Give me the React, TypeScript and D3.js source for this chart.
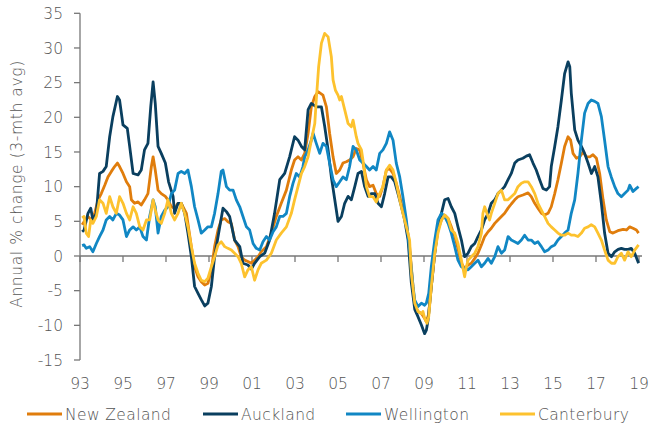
import React from "react";
import * as d3 from "d3";

type Pt = [number, number];

// series as [year, annual % change]
const newZealand: Pt[] = [
  [1993.1, 4.5], [1993.19, 4.95], [1993.37, 5.7], [1993.53, 5.2], [1993.68, 6.15], [1993.84, 8.1], [1993.99, 9.0],
  [1994.15, 10.2], [1994.3, 11.4], [1994.46, 12.2], [1994.61, 12.9], [1994.74, 13.4], [1994.84, 12.9], [1995.0, 11.9],
  [1995.16, 10.7], [1995.31, 10.0], [1995.39, 8.1], [1995.54, 7.6], [1995.7, 7.8], [1995.85, 7.35], [1996.0, 8.1],
  [1996.16, 9.0], [1996.32, 12.9], [1996.4, 14.3], [1996.5, 12.4], [1996.63, 9.5], [1996.78, 9.0], [1996.97, 8.6],
  [1997.09, 8.1], [1997.25, 7.1], [1997.4, 6.9], [1997.56, 7.6], [1997.71, 7.6], [1997.95, 6.15], [1998.18, 1.35],
  [1998.33, -1.55], [1998.49, -3.0], [1998.64, -3.7], [1998.8, -4.2], [1998.95, -3.95], [1999.11, -2.0], [1999.26, 1.35],
  [1999.42, 3.75], [1999.57, 5.2], [1999.73, 5.4], [1999.88, 4.95], [2000.04, 4.7], [2000.19, 2.3], [2000.35, 1.35],
  [2000.5, -0.1], [2000.66, -0.6], [2000.81, -0.8], [2000.97, -1.05], [2001.12, -0.6], [2001.28, -0.1], [2001.43, 0.6],
  [2001.67, 1.35], [2001.9, 3.3], [2002.13, 5.7], [2002.36, 7.6], [2002.6, 9.5], [2002.83, 12.4], [2002.98, 13.85],
  [2003.14, 14.3], [2003.3, 13.85], [2003.45, 14.8], [2003.61, 17.7], [2003.76, 21.5], [2003.92, 23.0], [2004.07, 23.7],
  [2004.3, 23.2], [2004.46, 21.5], [2004.61, 17.7], [2004.77, 14.3], [2004.92, 11.9], [2005.08, 12.4], [2005.23, 13.4],
  [2005.39, 13.6], [2005.54, 13.85], [2005.7, 14.3], [2005.85, 15.5], [2006.01, 15.3], [2006.16, 13.4], [2006.32, 11.0],
  [2006.47, 10.0], [2006.63, 10.2], [2006.78, 9.0], [2006.94, 8.6], [2007.09, 10.0], [2007.25, 12.4], [2007.4, 12.6],
  [2007.56, 11.9], [2007.71, 10.5], [2007.87, 8.6], [2008.02, 6.6], [2008.18, 4.7], [2008.33, 1.35], [2008.49, -4.4],
  [2008.57, -7.1], [2008.72, -8.0], [2008.88, -8.3], [2009.03, -9.0], [2009.11, -9.5], [2009.22, -8.3], [2009.34, -4.4],
  [2009.5, 0.4], [2009.65, 3.75], [2009.81, 5.2], [2009.96, 5.9], [2010.12, 5.4], [2010.27, 4.2], [2010.43, 2.8],
  [2010.58, 1.1], [2010.74, -1.05], [2010.89, -1.8], [2011.05, -1.3], [2011.2, -1.05], [2011.36, -0.35], [2011.51, 0.4],
  [2011.67, 1.6], [2011.82, 2.8], [2011.98, 3.5], [2012.13, 4.0], [2012.29, 4.7], [2012.44, 5.2], [2012.6, 5.7],
  [2012.75, 6.15], [2012.91, 6.9], [2013.06, 7.5], [2013.22, 8.1], [2013.37, 8.55], [2013.6, 8.8], [2013.84, 9.1],
  [2013.99, 8.55], [2014.15, 7.6], [2014.3, 6.9], [2014.46, 6.15], [2014.61, 5.9], [2014.77, 6.15], [2014.92, 7.1],
  [2015.08, 9.0], [2015.23, 11.0], [2015.39, 13.4], [2015.54, 15.8], [2015.7, 17.2], [2015.82, 16.7], [2015.93, 14.8],
  [2016.09, 14.1], [2016.24, 14.3], [2016.4, 15.0], [2016.55, 14.3], [2016.71, 14.3], [2016.86, 14.6], [2017.02, 14.1],
  [2017.17, 11.9], [2017.33, 8.1], [2017.48, 5.2], [2017.64, 3.5], [2017.79, 3.3], [2018.02, 3.65], [2018.26, 3.85],
  [2018.42, 3.75], [2018.57, 4.2], [2018.72, 4.0], [2018.88, 3.75], [2018.98, 3.3],
];

const auckland: Pt[] = [
  [1993.1, 3.5], [1993.19, 3.75], [1993.37, 6.15], [1993.5, 6.9], [1993.6, 5.2], [1993.76, 6.15], [1993.91, 11.9],
  [1994.07, 12.2], [1994.22, 12.9], [1994.38, 17.2], [1994.53, 20.1], [1994.74, 23.0], [1994.84, 22.5], [1995.0, 18.9],
  [1995.2, 18.4], [1995.31, 15.8], [1995.47, 11.9], [1995.7, 11.7], [1995.85, 12.4], [1996.0, 15.3], [1996.16, 16.25],
  [1996.29, 21.5], [1996.4, 25.1], [1996.5, 22.0], [1996.63, 15.8], [1996.78, 14.8], [1996.97, 13.4], [1997.12, 10.7],
  [1997.33, 8.6], [1997.4, 6.15], [1997.56, 7.6], [1997.71, 7.6], [1997.87, 6.15], [1998.02, 3.3], [1998.18, -0.1],
  [1998.33, -4.4], [1998.49, -5.4], [1998.64, -6.3], [1998.8, -7.2], [1998.95, -6.8], [1999.11, -4.4], [1999.26, -0.1],
  [1999.5, 4.2], [1999.65, 6.9], [1999.81, 6.4], [1999.96, 5.7], [2000.19, 2.3], [2000.43, 1.35], [2000.58, -1.05],
  [2000.81, -1.3], [2000.97, -1.9], [2001.12, -1.05], [2001.36, -0.1], [2001.59, 0.4], [2001.82, 2.3], [2002.05, 6.15],
  [2002.29, 11.0], [2002.52, 11.9], [2002.75, 14.3], [2002.98, 17.2], [2003.14, 16.7], [2003.3, 15.8], [2003.45, 15.3],
  [2003.61, 21.1], [2003.76, 22.0], [2003.99, 21.5], [2004.23, 21.5], [2004.38, 18.7], [2004.54, 15.3], [2004.69, 11.4],
  [2004.85, 8.1], [2005.0, 5.0], [2005.16, 5.7], [2005.31, 7.6], [2005.47, 8.6], [2005.62, 8.1], [2005.78, 10.0],
  [2005.93, 11.9], [2006.09, 12.2], [2006.24, 10.0], [2006.4, 8.6], [2006.55, 9.0], [2006.71, 9.0], [2006.86, 7.6],
  [2007.02, 7.1], [2007.17, 9.0], [2007.33, 11.4], [2007.48, 11.4], [2007.64, 10.7], [2007.79, 9.0], [2007.95, 7.1],
  [2008.1, 5.2], [2008.26, 2.3], [2008.41, -3.85], [2008.57, -7.7], [2008.72, -8.75], [2008.88, -9.95], [2009.03, -11.2],
  [2009.11, -10.7], [2009.19, -9.2], [2009.34, -4.4], [2009.5, 0.4], [2009.65, 4.2], [2009.81, 6.15], [2009.96, 8.1],
  [2010.12, 8.3], [2010.27, 7.1], [2010.43, 6.15], [2010.58, 4.2], [2010.74, 2.3], [2010.89, -0.1], [2011.05, 0.4],
  [2011.2, 1.35], [2011.36, 1.8], [2011.51, 2.8], [2011.67, 3.75], [2011.82, 5.2], [2011.98, 6.15], [2012.13, 7.6],
  [2012.29, 8.1], [2012.44, 9.0], [2012.6, 9.5], [2012.75, 10.0], [2012.91, 11.0], [2013.06, 11.9], [2013.22, 13.4],
  [2013.37, 13.85], [2013.6, 14.1], [2013.76, 14.4], [2013.91, 14.6], [2014.07, 13.4], [2014.22, 12.4], [2014.38, 11.0],
  [2014.53, 9.75], [2014.69, 9.5], [2014.84, 10.0], [2014.92, 12.9], [2015.08, 15.8], [2015.23, 18.65], [2015.39, 22.5],
  [2015.54, 26.3], [2015.7, 28.0], [2015.78, 27.3], [2015.85, 23.5], [2016.01, 18.2], [2016.16, 16.7], [2016.32, 15.8],
  [2016.47, 14.8], [2016.63, 13.4], [2016.79, 11.9], [2016.94, 12.9], [2017.09, 11.4], [2017.25, 7.6], [2017.4, 3.3],
  [2017.56, 0.4], [2017.72, -0.1], [2017.87, 0.6], [2018.03, 0.95], [2018.18, 1.1], [2018.33, 0.95], [2018.5, 0.95],
  [2018.64, 1.1], [2018.8, 0.4], [2018.98, -1.05],
];

const wellington: Pt[] = [
  [1993.1, 1.5], [1993.19, 1.6], [1993.29, 1.1], [1993.45, 1.35], [1993.6, 0.6], [1993.76, 1.8], [1993.91, 2.8],
  [1994.07, 3.75], [1994.22, 5.2], [1994.38, 5.7], [1994.53, 5.2], [1994.69, 6.15], [1994.84, 5.9], [1995.0, 5.2],
  [1995.16, 2.8], [1995.31, 3.75], [1995.47, 4.2], [1995.62, 3.75], [1995.78, 4.2], [1995.93, 2.8], [1996.09, 2.3],
  [1996.24, 5.7], [1996.4, 8.1], [1996.5, 7.1], [1996.63, 3.3], [1996.78, 5.7], [1996.94, 6.6], [1997.09, 7.1],
  [1997.25, 9.0], [1997.4, 9.5], [1997.56, 11.9], [1997.71, 12.2], [1997.87, 11.9], [1998.02, 12.4], [1998.18, 10.0],
  [1998.33, 7.1], [1998.49, 5.2], [1998.64, 3.3], [1998.8, 3.75], [1998.95, 4.2], [1999.11, 4.2], [1999.26, 6.15],
  [1999.42, 9.0], [1999.57, 12.2], [1999.65, 12.4], [1999.81, 10.0], [1999.96, 9.5], [2000.12, 9.5], [2000.27, 8.1],
  [2000.43, 7.1], [2000.58, 5.7], [2000.74, 4.2], [2000.89, 3.75], [2001.05, 1.8], [2001.2, 1.1], [2001.36, 0.85],
  [2001.51, 2.05], [2001.67, 2.8], [2001.82, 2.3], [2001.98, 3.5], [2002.13, 4.2], [2002.29, 5.7], [2002.44, 5.7],
  [2002.6, 6.15], [2002.75, 8.55], [2002.91, 10.5], [2003.06, 11.9], [2003.22, 11.4], [2003.37, 12.9], [2003.45, 14.3],
  [2003.61, 15.3], [2003.76, 16.7], [2003.84, 17.7], [2003.99, 16.25], [2004.15, 14.8], [2004.3, 16.25], [2004.46, 15.8],
  [2004.61, 13.4], [2004.77, 11.0], [2004.92, 10.0], [2005.08, 10.7], [2005.23, 11.4], [2005.39, 11.0], [2005.54, 12.9],
  [2005.7, 15.8], [2005.85, 15.3], [2006.01, 13.85], [2006.16, 13.4], [2006.32, 12.9], [2006.47, 12.4], [2006.63, 12.9],
  [2006.78, 12.4], [2006.94, 14.8], [2007.09, 15.3], [2007.25, 16.25], [2007.4, 17.9], [2007.56, 16.7], [2007.71, 13.4],
  [2007.87, 11.4], [2008.02, 8.55], [2008.18, 5.2], [2008.33, 0.85], [2008.49, -4.4], [2008.57, -6.35], [2008.72, -7.3],
  [2008.88, -6.8], [2009.03, -7.1], [2009.11, -6.8], [2009.22, -5.4], [2009.34, -1.55], [2009.5, 2.3], [2009.65, 5.2],
  [2009.81, 6.15], [2009.96, 5.7], [2010.12, 4.7], [2010.27, 3.3], [2010.43, 1.35], [2010.58, -0.6], [2010.74, -1.55],
  [2010.89, -1.8], [2011.05, -2.0], [2011.2, -1.55], [2011.36, -1.05], [2011.51, -0.6], [2011.67, -1.55], [2011.82, -1.05],
  [2011.98, -0.35], [2012.13, -1.05], [2012.29, -0.1], [2012.44, 1.35], [2012.6, 0.4], [2012.75, 0.85], [2012.91, 2.8],
  [2013.06, 2.3], [2013.22, 2.05], [2013.37, 1.8], [2013.53, 2.3], [2013.68, 3.0], [2013.84, 2.3], [2013.99, 2.3],
  [2014.15, 1.8], [2014.3, 2.05], [2014.46, 1.35], [2014.61, 0.6], [2014.77, 0.85], [2014.92, 1.35], [2015.08, 1.6],
  [2015.23, 2.3], [2015.39, 2.8], [2015.54, 3.3], [2015.7, 3.75], [2015.85, 6.15], [2016.01, 8.1], [2016.16, 11.9],
  [2016.32, 16.7], [2016.47, 20.6], [2016.63, 22.0], [2016.78, 22.5], [2016.94, 22.3], [2017.09, 22.0], [2017.25, 20.1],
  [2017.4, 16.7], [2017.56, 12.9], [2017.71, 11.4], [2017.87, 10.0], [2018.02, 9.0], [2018.18, 8.55], [2018.33, 9.0],
  [2018.49, 9.5], [2018.57, 10.2], [2018.72, 9.3], [2018.88, 9.75], [2018.98, 10.0],
];

const canterbury: Pt[] = [
  [1993.1, 5.5], [1993.19, 5.7], [1993.29, 3.3], [1993.4, 2.8], [1993.5, 5.2], [1993.6, 4.7], [1993.76, 5.7],
  [1993.91, 8.1], [1994.07, 7.6], [1994.22, 6.15], [1994.38, 8.55], [1994.53, 7.1], [1994.69, 6.15], [1994.84, 8.55],
  [1995.0, 7.6], [1995.16, 6.15], [1995.31, 5.2], [1995.47, 7.1], [1995.62, 6.15], [1995.78, 4.2], [1995.93, 3.75],
  [1996.09, 5.2], [1996.24, 5.2], [1996.4, 8.1], [1996.5, 6.6], [1996.63, 5.2], [1996.78, 4.7], [1996.94, 6.15],
  [1997.09, 8.1], [1997.25, 6.15], [1997.4, 5.2], [1997.56, 6.15], [1997.71, 7.6], [1997.87, 6.15], [1998.02, 4.2],
  [1998.18, 1.35], [1998.33, -1.05], [1998.49, -2.5], [1998.64, -3.5], [1998.8, -3.7], [1998.95, -3.2], [1999.11, -1.55],
  [1999.26, -0.1], [1999.42, 1.6], [1999.57, 2.05], [1999.73, 1.35], [1999.88, 1.1], [2000.04, 0.85], [2000.19, 0.4],
  [2000.35, -0.1], [2000.5, -1.05], [2000.66, -3.0], [2000.81, -2.0], [2000.97, -1.55], [2001.12, -3.5], [2001.28, -2.0],
  [2001.43, -1.05], [2001.67, -0.6], [2001.9, 0.4], [2002.13, 2.3], [2002.36, 3.3], [2002.6, 4.2], [2002.83, 6.15],
  [2002.98, 8.1], [2003.14, 10.0], [2003.3, 11.9], [2003.45, 12.9], [2003.61, 14.3], [2003.76, 16.7], [2003.92, 19.1],
  [2003.99, 22.5], [2004.1, 27.3], [2004.23, 30.7], [2004.38, 32.1], [2004.54, 31.6], [2004.69, 28.75], [2004.77, 25.4],
  [2004.88, 23.9], [2005.0, 23.2], [2005.08, 22.5], [2005.16, 23.0], [2005.31, 21.1], [2005.47, 19.1], [2005.62, 18.65],
  [2005.7, 19.6], [2005.85, 17.2], [2005.93, 16.25], [2006.09, 15.3], [2006.16, 13.85], [2006.32, 10.0], [2006.47, 8.55],
  [2006.63, 8.55], [2006.78, 7.8], [2006.94, 9.0], [2007.09, 10.0], [2007.25, 12.4], [2007.4, 13.1], [2007.56, 12.4],
  [2007.71, 10.5], [2007.87, 8.1], [2008.02, 6.15], [2008.18, 4.2], [2008.33, 2.3], [2008.41, -2.5], [2008.57, -6.8],
  [2008.72, -8.0], [2008.88, -8.3], [2008.95, -8.0], [2009.03, -9.0], [2009.14, -9.7], [2009.22, -8.75], [2009.34, -4.4],
  [2009.5, 0.4], [2009.65, 3.3], [2009.81, 5.2], [2009.96, 5.9], [2010.12, 5.4], [2010.27, 3.75], [2010.43, 3.3],
  [2010.58, 1.8], [2010.74, -0.6], [2010.89, -3.0], [2010.97, -1.55], [2011.05, -0.6], [2011.2, -0.1], [2011.36, 0.4],
  [2011.51, 1.35], [2011.67, 3.3], [2011.74, 6.15], [2011.82, 7.1], [2011.98, 5.7], [2012.05, 5.2], [2012.13, 6.15],
  [2012.29, 7.6], [2012.44, 9.0], [2012.6, 9.5], [2012.75, 8.1], [2012.91, 8.1], [2013.06, 8.55], [2013.22, 9.0],
  [2013.37, 10.0], [2013.53, 10.5], [2013.68, 10.7], [2013.84, 10.7], [2013.99, 10.0], [2014.15, 9.0], [2014.3, 7.6],
  [2014.46, 6.6], [2014.61, 5.7], [2014.77, 4.7], [2014.92, 4.2], [2015.08, 3.75], [2015.23, 3.3], [2015.39, 3.0],
  [2015.54, 3.0], [2015.7, 3.3], [2015.85, 3.0], [2016.01, 3.0], [2016.16, 2.8], [2016.32, 3.3], [2016.47, 4.0],
  [2016.63, 4.2], [2016.78, 4.5], [2016.94, 4.2], [2017.09, 3.3], [2017.25, 2.3], [2017.4, 0.85], [2017.56, -0.6],
  [2017.72, -1.05], [2017.87, -1.05], [2018.02, -0.1], [2018.18, 0.4], [2018.33, -0.6], [2018.49, 0.6], [2018.64, -0.1],
  [2018.8, 0.85], [2018.98, 1.6],
];

const seriesNames = ["New Zealand", "Auckland", "Wellington", "Canterbury"];
const seriesData = [newZealand, auckland, wellington, canterbury];
const seriesColors = ["#E07D0C", "#0A3F5F", "#1187C4", "#FDC22E"];

const yTicks = [-15, -10, -5, 0, 5, 10, 15, 20, 25, 30, 35];
const xTicks = [1993, 1995, 1997, 1999, 2001, 2003, 2005, 2007, 2009, 2011, 2013, 2015, 2017, 2019];

const W = 652;
const H = 427;
const font = "'DejaVu Sans', sans-serif";
const textColor = "#555";
const axisColor = "#777";

export default function App() {
  const x = d3.scaleLinear().domain([1993, 2019]).range([80, 639]);
  const y = d3.scaleLinear().domain([-15, 35]).range([360, 13.3]);
  const line = d3
    .line<Pt>()
    .x((d) => x(d[0]))
    .y((d) => y(d[1]));

  const legendX = [27, 203, 346, 500];

  return (
    <svg
      width={W}
      height={H}
      style={{ position: "absolute", left: 0, top: 0, background: "#fff" }}
      fontFamily={font}
    >
      {/* y axis */}
      <line x1={x(1993)} x2={x(1993)} y1={y(35)} y2={y(-15)} stroke={axisColor} strokeWidth={1.3} />
      {yTicks.map((t) => (
        <g key={t}>
          <line x1={x(1993) - 6} x2={x(1993)} y1={y(t)} y2={y(t)} stroke={axisColor} strokeWidth={1.3} />
          <text
            x={63}
            y={y(t)}
            dy="0.36em"
            textAnchor="end"
            fontSize={15.5}
            fontWeight={200}
            fill={textColor}
          >
            {t}
          </text>
        </g>
      ))}
      <text
        transform={`translate(22,184) rotate(-90)`}
        textAnchor="middle"
        fontSize={15.5}
        fontWeight={200}
        letterSpacing={0.6}
        fill={textColor}
      >
        Annual % change (3-mth avg)
      </text>

      {/* zero line + x ticks */}
      <line x1={x(1993)} x2={642} y1={y(0)} y2={y(0)} stroke={axisColor} strokeWidth={1.5} />
      {xTicks.map((t) => (
        <g key={t}>
          <line x1={x(t)} x2={x(t)} y1={y(0)} y2={y(0) + 6} stroke={axisColor} strokeWidth={1.3} />
          <text
            x={x(t)}
            y={383}
            dy="0.36em"
            textAnchor="middle"
            fontSize={15.5}
            fontWeight={200}
            fill={textColor}
          >
            {String(t % 100).padStart(2, "0")}
          </text>
        </g>
      ))}

      {/* series */}
      {seriesData.map((s, i) => (
        <path
          key={seriesNames[i]}
          d={line(s) || ""}
          fill="none"
          stroke={seriesColors[i]}
          strokeWidth={2.8}
          strokeLinejoin="round"
        />
      ))}

      {/* legend */}
      {seriesNames.map((name, i) => (
        <g key={name} transform={`translate(${legendX[i]},414)`}>
          <line x1={0} x2={35} y1={0} y2={0} stroke={seriesColors[i]} strokeWidth={3} />
          <text
            x={38}
            y={0}
            dy="0.36em"
            fontSize={15.5}
            fontWeight={200}
            letterSpacing={0.4}
            fill={textColor}
          >
            {name}
          </text>
        </g>
      ))}
    </svg>
  );
}
